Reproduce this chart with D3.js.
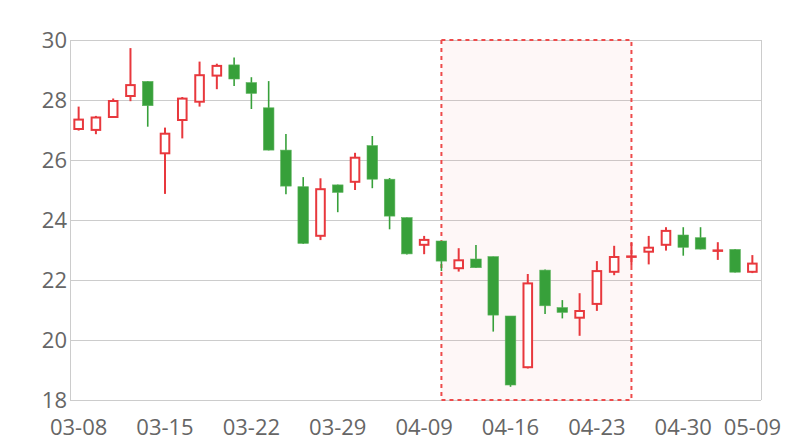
<!DOCTYPE html>
<html>
<head>
<meta charset="utf-8">
<script src="https://cdn.jsdelivr.net/npm/d3@7/dist/d3.min.js"></script>
<style>
html,body{margin:0;padding:0;background:#fff;}
svg{display:block;}
</style>
</head>
<body>
<svg id="chart" width="800" height="440"></svg>
<script>
const dates = ["03-08","03-11","03-12","03-13","03-14","03-15","03-18","03-19","03-20","03-21",
  "03-22","03-25","03-26","03-27","03-28","03-29","04-01","04-02","04-03","04-08",
  "04-09","04-10","04-11","04-12","04-15","04-16","04-17","04-18","04-19","04-22",
  "04-23","04-24","04-25","04-26","04-29","04-30","05-06","05-07","05-08","05-09"];
const openV  = [27.00,26.97,27.40,28.10,28.62,26.19,27.30,27.91,28.78,29.17,
  28.58,27.74,26.33,25.11,23.44,25.17,25.24,26.48,25.36,24.08,
  23.14,23.30,22.36,22.70,22.78,20.80,19.06,22.33,21.08,20.71,
  21.17,22.24,22.78,22.91,23.14,23.50,23.41,22.98,23.02,22.24];
const closeV = [27.38,27.45,28.00,28.53,27.81,26.91,28.08,28.86,29.17,28.70,
  28.22,26.33,25.13,23.22,25.06,24.92,26.11,25.36,24.13,22.87,
  23.37,22.63,22.69,22.41,20.83,18.50,21.92,21.14,20.92,21.00,
  22.33,22.80,22.82,23.11,23.67,23.09,23.03,23.02,22.26,22.58];
const lowV   = [26.98,26.86,27.40,27.96,27.11,24.87,26.72,27.78,28.36,28.47,
  27.70,26.32,24.86,23.20,23.33,24.26,25.00,25.06,23.69,22.85,
  22.86,22.30,22.28,22.40,20.28,18.44,19.05,20.87,20.72,20.14,
  20.97,22.16,22.47,22.52,22.98,22.81,23.02,22.67,22.25,22.23];
const highV  = [27.78,27.47,28.05,29.73,28.63,27.08,28.10,29.28,29.21,29.42,
  28.76,28.63,26.87,25.43,25.39,25.18,26.24,26.80,25.40,24.08,
  23.47,23.30,23.06,23.17,22.78,20.80,22.20,22.35,21.33,21.56,
  22.63,23.14,23.24,23.47,23.76,23.76,23.76,23.26,23.03,22.83];
const yTicks = [18,20,22,24,26,28,30];
const xLabelIdx = [0,5,10,15,20,25,30,35,39];
const areaStart = "04-10", areaEnd = "04-25";

const upColor = "#e8383d", downColor = "#37a03a";
const svg = d3.select("#chart");
const L = 70, R = 761, T = 40, B = 400;
const x = d3.scaleBand().domain(dates).range([L, R]).padding(0);
const y = d3.scaleLinear().domain([18, 30]).range([B, T]);
const cx = d => x(d) + x.bandwidth() / 2;
const bw = 10.6;
const font = "'Open Sans', sans-serif";

const data = dates.map((d, i) => ({d, o: openV[i], c: closeV[i], l: lowV[i], h: highV[i]}));

// grid
svg.append("g").selectAll("line").data(yTicks).join("line")
  .attr("x1", L).attr("x2", R).attr("y1", d => y(d)).attr("y2", d => y(d))
  .attr("stroke", "#cccccc").attr("stroke-width", 1).attr("shape-rendering", "crispEdges");
svg.append("line").attr("x1", L).attr("x2", L).attr("y1", T).attr("y2", B)
  .attr("stroke", "#cccccc").attr("shape-rendering", "crispEdges");
svg.append("line").attr("x1", R).attr("x2", R).attr("y1", T).attr("y2", B)
  .attr("stroke", "#cccccc").attr("shape-rendering", "crispEdges");

// mark area
svg.append("rect")
  .attr("x", cx(areaStart)).attr("y", y(30))
  .attr("width", cx(areaEnd) - cx(areaStart)).attr("height", y(18) - y(30))
  .attr("fill", "rgba(240,60,60,0.04)")
  .attr("stroke", "#ee4b4b").attr("stroke-width", 2).attr("stroke-dasharray", "4,4");

// y labels
svg.append("g").selectAll("text").data(yTicks).join("text")
  .attr("x", L - 3).attr("y", d => y(d)).attr("dy", "0.36em")
  .attr("text-anchor", "end").attr("fill", "#666")
  .attr("font-family", font).attr("font-size", 22)
  .text(d => d);

// x labels
svg.append("g").selectAll("text").data(xLabelIdx.map(i => dates[i])).join("text")
  .attr("x", d => cx(d)).attr("y", 435)
  .attr("text-anchor", "middle").attr("fill", "#666")
  .attr("font-family", font).attr("font-size", 22)
  .text(d => d);

// candles
const g = svg.append("g");
const c = g.selectAll("g").data(data).join("g");
c.append("line")
  .attr("x1", d => cx(d.d)).attr("x2", d => cx(d.d))
  .attr("y1", d => y(d.h)).attr("y2", d => y(d.l))
  .attr("stroke", d => d.c >= d.o ? upColor : downColor)
  .attr("stroke-width", d => d.c >= d.o ? 2 : 1.6);
c.append("rect")
  .attr("x", d => cx(d.d) - bw / 2 + (d.c >= d.o ? 1 : 0))
  .attr("width", d => d.c >= d.o ? bw - 2 : bw)
  .attr("y", d => y(Math.max(d.o, d.c)) + (d.c >= d.o ? 1 : 0))
  .attr("height", d => Math.max(y(Math.min(d.o, d.c)) - y(Math.max(d.o, d.c)) - (d.c >= d.o ? 2 : 0), 0.5))
  .attr("fill", d => d.c >= d.o ? "#fff" : downColor)
  .attr("stroke", d => d.c >= d.o ? upColor : "#5cb35c")
  .attr("stroke-width", d => d.c >= d.o ? 2 : 0.6);
</script>
</body>
</html>
